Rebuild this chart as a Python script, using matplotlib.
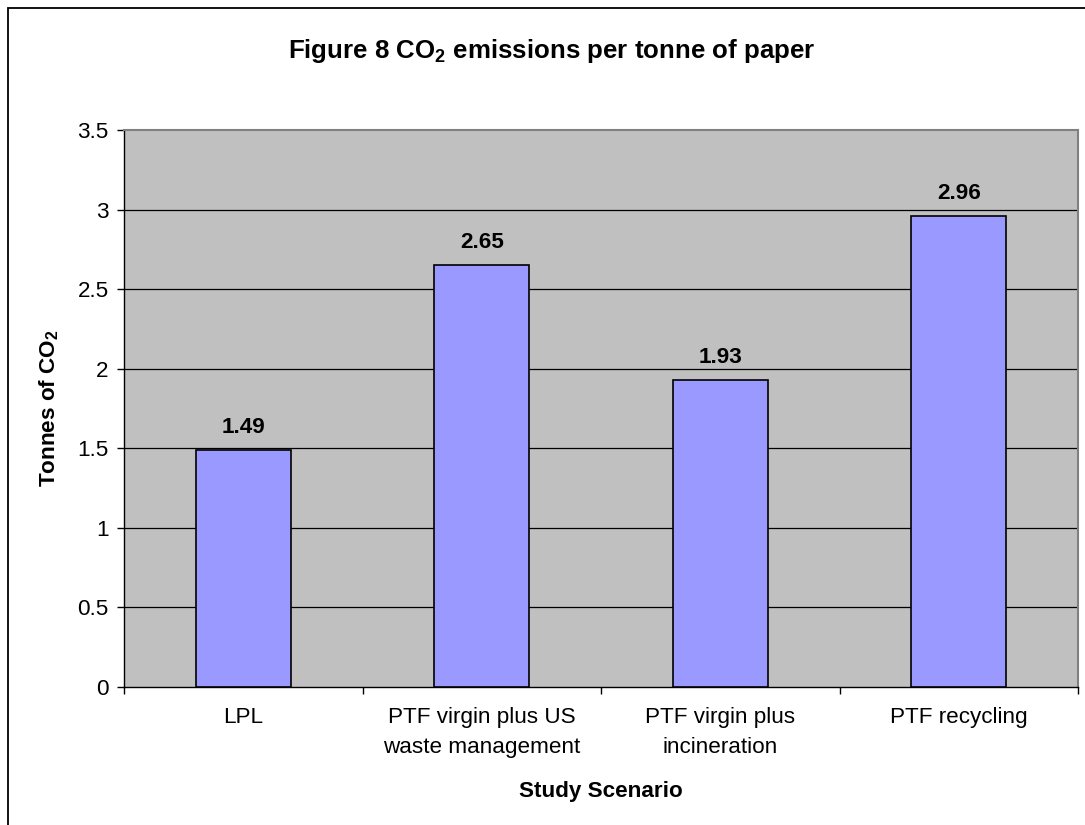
import matplotlib
matplotlib.use("Agg")
import matplotlib.pyplot as plt
from matplotlib.patches import Rectangle
import numpy as np

categories = ["LPL", "PTF virgin plus US\nwaste management", "PTF virgin plus\nincineration", "PTF recycling"]
values = [1.49, 2.65, 1.93, 2.96]
value_labels = ["1.49", "2.65", "1.93", "2.96"]
yticks = [0, 0.5, 1, 1.5, 2, 2.5, 3, 3.5]
ytick_labels = ["0", "0.5", "1", "1.5", "2", "2.5", "3", "3.5"]

plt.rcParams['font.family'] = ['Liberation Sans', 'DejaVu Sans']
plt.rcParams['mathtext.fontset'] = 'custom'
plt.rcParams['mathtext.rm'] = 'Liberation Sans'
plt.rcParams['mathtext.bf'] = 'Liberation Sans:bold'

FS = 16.2
W, H = 1085, 825
fig = plt.figure(figsize=(W / 100, H / 100), dpi=100)
fig.patch.set_facecolor('white')

# outer chart border (left and top visible)
fig.add_artist(Rectangle((8 / W, -0.1), 1.2, (H - 8) / H + 0.1, transform=fig.transFigure,
                         fill=False, edgecolor='black', linewidth=1.3))

left, right, top, bottom = 124, 1078, 130, 687
ax = fig.add_axes([left / W, 1 - bottom / H, (right - left) / W, (bottom - top) / H])
ax.set_facecolor('#C0C0C0')

x = np.arange(len(categories))
bars = ax.bar(x, values, width=0.4, color='#9999FF', edgecolor='black', linewidth=1.2, zorder=3)

ax.set_xlim(-0.5, len(categories) - 0.5)
ax.set_ylim(0, 3.5)
ax.set_yticks(yticks)
ax.set_yticklabels(ytick_labels, fontsize=FS)
for yv in yticks[1:-1]:
    ax.axhline(yv, color='black', linewidth=0.9, zorder=1)

ax.set_xticks(x)
ax.set_xticklabels(categories, fontsize=FS, linespacing=1.55)
ax.tick_params(axis='x', length=0, pad=14.5)
ax.set_xticks(np.arange(-0.5, len(categories), 1.0), minor=True)
ax.tick_params(axis='x', which='minor', length=5, width=1, color='black', direction='out')
ax.tick_params(axis='y', length=5, width=1, color='black', direction='out', pad=6)

for side in ['top', 'right']:
    ax.spines[side].set_color('#808080')
    ax.spines[side].set_linewidth(1.5)
for side in ['left', 'bottom']:
    ax.spines[side].set_color('black')
    ax.spines[side].set_linewidth(1.0)

for xi, v, lab in zip(x, values, value_labels):
    ax.annotate(lab, (xi, v), xytext=(0, 12.2), textcoords='offset points',
                ha='center', va='baseline', fontsize=FS, fontweight='bold', zorder=4)

fig.text(551.5 / W, 1 - 58 / H, r'Figure 8 CO$_\mathbf{2}$ emissions per tonne of paper',
         ha='center', va='baseline', fontsize=18.6, fontweight='bold')
fig.text(49 / W, 1 - 408 / H, r'Tonnes of CO$_\mathbf{2}$', rotation=90,
         ha='center', va='center', fontsize=FS, fontweight='bold')
fig.text((left + right) / 2 / W, 1 - 797 / H, 'Study Scenario',
         ha='center', va='baseline', fontsize=FS, fontweight='bold')

fig.savefig('out.png', dpi=100)
